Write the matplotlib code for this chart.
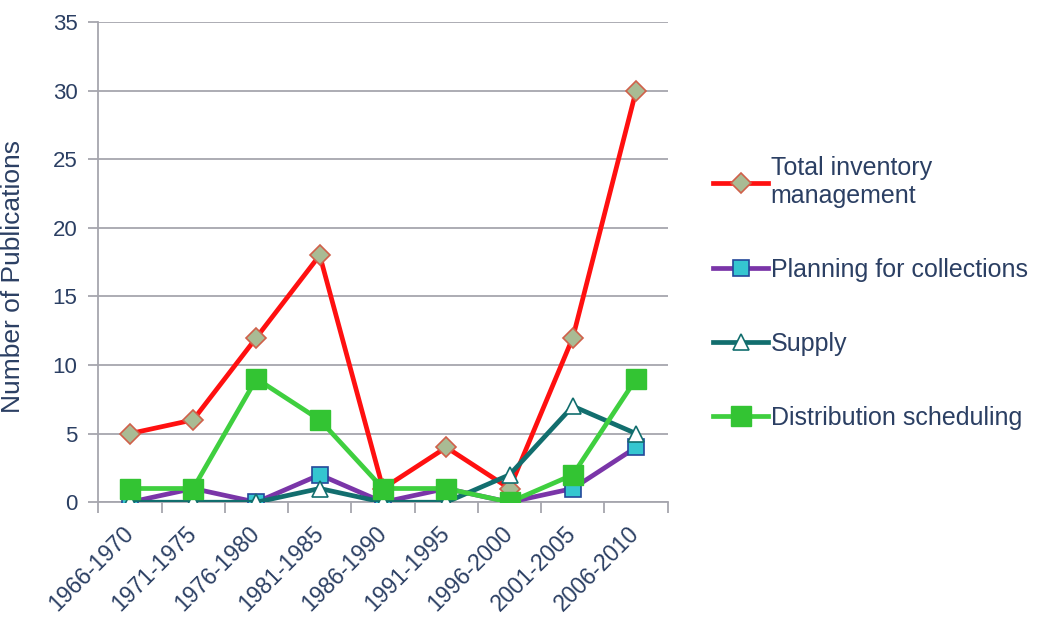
import matplotlib.pyplot as plt
import numpy as np
from matplotlib.ticker import FixedLocator

# Periodi e conteggi
PERIODS = ["1966-1970", "1971-1975", "1976-1980", "1981-1985", "1986-1990",
           "1991-1995", "1996-2000", "2001-2005", "2006-2010"]
TOTAL_INVENTORY = [5, 6, 12, 18, 1, 4, 1, 12, 30]
PLANNING = [0, 1, 0, 2, 0, 1, 0, 1, 4]
SUPPLY = [0, 0, 0, 1, 0, 0, 2, 7, 5]
DISTRIBUTION = [1, 1, 9, 6, 1, 1, 0, 2, 9]

TEXT_COLOR = "#2b3f63"
GRID_COLOR = "#a6a6ae"

plt.rcParams["font.family"] = ["Liberation Sans", "DejaVu Sans"]

fig = plt.figure(figsize=(10.45, 6.27), dpi=100)
ax = fig.add_axes([0.094, 0.199, 0.545, 0.766])

x = np.arange(len(PERIODS))

ax.plot(x, TOTAL_INVENTORY, color="#ff1010", linewidth=3.4, marker="D",
        markersize=10, markerfacecolor="#a9bb94", markeredgecolor="#d0604a",
        markeredgewidth=1.2, label="Total inventory\nmanagement", zorder=3)
ax.plot(x, PLANNING, color="#7a35a8", linewidth=3.4, marker="s",
        markersize=11, markerfacecolor="#35c6d0", markeredgecolor="#24489a",
        markeredgewidth=1.2, label="Planning for collections", zorder=4)
ax.plot(x, SUPPLY, color="#126e6e", linewidth=3.4, marker="^",
        markersize=12, markerfacecolor="white", markeredgecolor="#126e6e",
        markeredgewidth=1.2, label="Supply", zorder=5)
ax.plot(x, DISTRIBUTION, color="#3fcf3f", linewidth=3.4, marker="s",
        markersize=14, markerfacecolor="#33c433", markeredgecolor="#33c433",
        label="Distribution scheduling", zorder=6)

ax.set_xlim(-0.5, len(PERIODS) - 0.5)
ax.set_ylim(0, 35)
ax.set_yticks(np.arange(0, 36, 5))
ax.set_xticks(x)
ax.set_xticklabels(PERIODS, rotation=45, ha="right", va="center",
                   rotation_mode="anchor")
ax.xaxis.set_minor_locator(FixedLocator(np.arange(-0.5, len(PERIODS), 1.0)))

ax.tick_params(axis="x", which="major", length=0, pad=20,
               labelsize=16.5, labelcolor=TEXT_COLOR)
ax.tick_params(axis="x", which="minor", length=8, width=1.3,
               color=GRID_COLOR, direction="out")
ax.tick_params(axis="y", length=7, width=1.3, color=GRID_COLOR,
               labelsize=16, labelcolor=TEXT_COLOR, pad=8)

ax.grid(axis="y", color=GRID_COLOR, linewidth=1.3)
ax.set_axisbelow(True)
for side in ("top", "right"):
    ax.spines[side].set_visible(False)
for side in ("left", "bottom"):
    ax.spines[side].set_color(GRID_COLOR)
    ax.spines[side].set_linewidth(1.3)

ax.set_ylabel("Number of Publications", fontsize=19, color=TEXT_COLOR)
ax.yaxis.set_label_coords(-0.128, 0.47)

fig.legend(loc="center left", bbox_to_anchor=(0.661, 0.533), frameon=False,
           fontsize=18, labelcolor=TEXT_COLOR, handlelength=2.2,
           handletextpad=0.1, labelspacing=2.0)

fig.savefig("out.png", dpi=100)
